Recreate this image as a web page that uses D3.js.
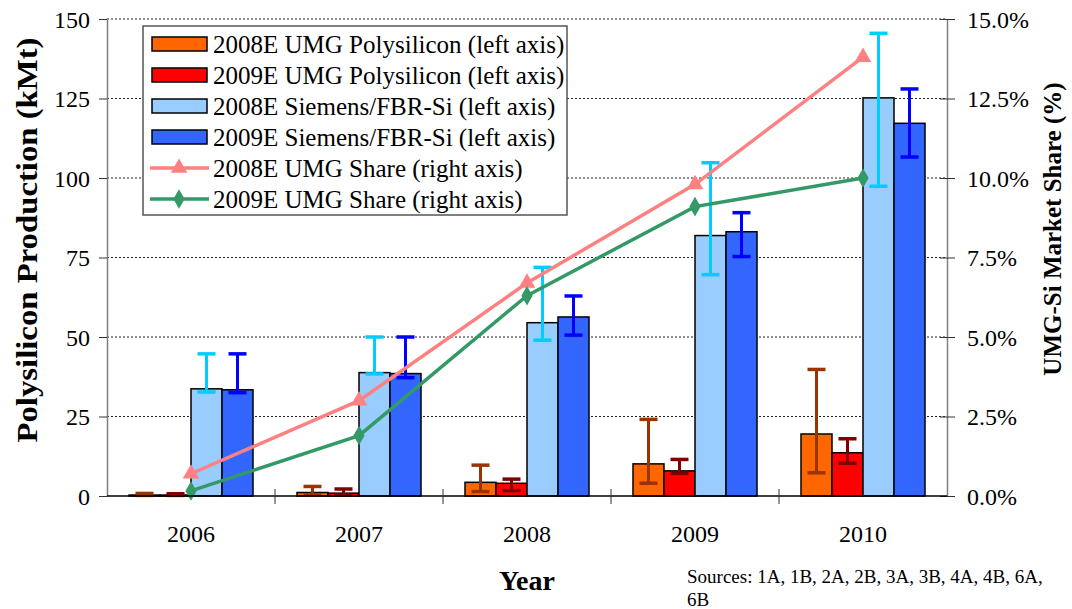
<!DOCTYPE html>
<html>
<head>
<meta charset="utf-8">
<script src="https://cdnjs.cloudflare.com/ajax/libs/d3/7.8.5/d3.min.js"></script>
<style>
    body { margin: 0; background: #fff; }
    svg text { font-family: "Liberation Serif", "Times New Roman", serif; fill: #000; }
</style>
</head>
<body>
<div id="wrapper"></div>
<script>

// values
var years = ["2006", "2007", "2008", "2009", "2010"];

var umg2008 = [0.3, 1.1, 4.3, 10.1, 19.5];
var umg2009 = [0.3, 0.9, 4.0, 7.9, 13.6];
var sie2008 = [33.7, 38.8, 54.5, 81.9, 125.2];
var sie2009 = [33.4, 38.5, 56.3, 83.1, 117.2];

// error bar ends (low / high)
var umg2008Lo = [0.2, 0.3, 1.4, 4.0, 7.3];
var umg2008Hi = [0.8, 3.0, 9.7, 24.1, 39.8];
var umg2009Lo = [0.2, 0.3, 1.7, 7.1, 10.3];
var umg2009Hi = [0.7, 2.2, 5.3, 11.5, 18.0];
var sie2008Lo = [32.7, 38.4, 49.0, 69.6, 97.4];
var sie2008Hi = [44.7, 50.0, 71.9, 104.8, 145.5];
var sie2009Lo = [32.5, 37.2, 50.6, 75.3, 106.6];
var sie2009Hi = [44.7, 50.0, 62.9, 89.1, 128.0];

// right axis lines
var share2008 = [0.007, 0.030, 0.067, 0.098, 0.138];
var share2009 = [0.0016, 0.019, 0.063, 0.091, 0.100];

var leftTicks = [0, 25, 50, 75, 100, 125, 150];
var rightTicks = [0, 0.025, 0.05, 0.075, 0.1, 0.125, 0.15];

var barSeries = [
    { name: "2008E UMG Polysilicon (left axis)", values: umg2008, lo: umg2008Lo, hi: umg2008Hi, fill: "#ff6600", err: "#993300" },
    { name: "2009E UMG Polysilicon (left axis)", values: umg2009, lo: umg2009Lo, hi: umg2009Hi, fill: "#ff0000", err: "#800000" },
    { name: "2008E Siemens/FBR-Si (left axis)", values: sie2008, lo: sie2008Lo, hi: sie2008Hi, fill: "#99ccff", err: "#00ccff" },
    { name: "2009E Siemens/FBR-Si (left axis)", values: sie2009, lo: sie2009Lo, hi: sie2009Hi, fill: "#3366ff", err: "#0000ff" }
];
var lineSeries = [
    { name: "2008E UMG Share (right axis)", values: share2008, color: "#ff8080", symbol: d3.symbolTriangle },
    { name: "2009E UMG Share (right axis)", values: share2009, color: "#339966", symbol: d3.symbolDiamond }
];

var margin = { top: 19, right: 125, bottom: 113, left: 107 };
var W = 1072, H = 609;
var width = W - margin.left - margin.right,
    height = H - margin.top - margin.bottom;

var svg = d3.select("#wrapper").append("svg")
    .attr("width", W)
    .attr("height", H)
    .attr("font-family", "'Liberation Serif', 'Times New Roman', serif");

var g = svg.append("g")
    .attr("transform", "translate(" + margin.left + "," + margin.top + ")");

var x = d3.scaleBand().domain(years).range([0, width]);
var xInner = d3.scaleBand().domain(d3.range(barSeries.length)).range([22, x.bandwidth() - 22]);
var y = d3.scaleLinear().domain([0, 150]).range([height, 0]);
var y2 = d3.scaleLinear().domain([0, 0.15]).range([height, 0]);

// dotted gridlines
g.append("g").selectAll("line")
    .data(leftTicks.filter(function(d) { return d > 0; }))
    .enter().append("line")
    .attr("x1", 0).attr("x2", width)
    .attr("y1", function(d) { return y(d); })
    .attr("y2", function(d) { return y(d); })
    .attr("stroke", "#222")
    .attr("stroke-width", 1)
    .attr("stroke-dasharray", "2,2");

// bars
barSeries.forEach(function(s, i) {
    g.append("g").selectAll("rect")
        .data(s.values)
        .enter().append("rect")
        .attr("x", function(d, j) { return x(years[j]) + xInner(i); })
        .attr("y", function(d) { return y(d); })
        .attr("width", xInner.bandwidth())
        .attr("height", function(d) { return height - y(d); })
        .attr("fill", s.fill)
        .attr("stroke", "#000")
        .attr("stroke-width", 1.5);
});

// error bars
barSeries.forEach(function(s, i) {
    var eg = g.append("g").attr("stroke", s.err);
    s.values.forEach(function(d, j) {
        var cx = x(years[j]) + xInner(i) + xInner.bandwidth() / 2;
        eg.append("line")
            .attr("x1", cx).attr("x2", cx)
            .attr("y1", y(s.lo[j])).attr("y2", y(s.hi[j]))
            .attr("stroke-width", 3);
        [s.lo[j], s.hi[j]].forEach(function(v) {
            eg.append("line")
                .attr("x1", cx - 9).attr("x2", cx + 9)
                .attr("y1", y(v)).attr("y2", y(v))
                .attr("stroke-width", 3.5);
        });
    });
});

// share lines
var line = d3.line()
    .x(function(d, j) { return x(years[j]) + x.bandwidth() / 2; })
    .y(function(d) { return y2(d); });

lineSeries.forEach(function(s) {
    g.append("path")
        .datum(s.values)
        .attr("d", line)
        .attr("fill", "none")
        .attr("stroke", s.color)
        .attr("stroke-width", 3.5);
    g.append("g").selectAll("path")
        .data(s.values)
        .enter().append("path")
        .attr("d", d3.symbol().type(s.symbol).size(s.symbol === d3.symbolTriangle ? 120 : 110))
        .attr("transform", function(d, j) {
            return "translate(" + (x(years[j]) + x.bandwidth() / 2) + "," + y2(d) + ")";
        })
        .attr("fill", s.color);
});

// left axis
var yAxis = d3.axisLeft(y).tickValues(leftTicks).tickSize(8).tickSizeOuter(0).tickPadding(9);
var ya = g.append("g").call(yAxis);
ya.attr("font-family", null);
ya.select(".domain").attr("stroke", "#7f7f7f").attr("stroke-width", 1.5);
ya.selectAll(".tick line").attr("stroke", "#333");
ya.selectAll(".tick text").style("font-size", "24px").attr("dy", "0.34em");

// right axis
var y2Axis = d3.axisRight(y2).tickValues(rightTicks).tickSize(8).tickSizeOuter(0).tickPadding(12)
    .tickFormat(d3.format(".1%"));
var y2a = g.append("g").attr("transform", "translate(" + width + ",0)").call(y2Axis);
y2a.attr("font-family", null);
y2a.select(".domain").attr("stroke", "#7f7f7f").attr("stroke-width", 1.5);
y2a.selectAll(".tick line").attr("x1", -7).attr("stroke", "#333");
y2a.selectAll(".tick text").style("font-size", "24px").attr("dy", "0.34em");

// bottom axis, ticks sit between the years
g.append("line")
    .attr("x1", 0).attr("x2", width)
    .attr("y1", height).attr("y2", height)
    .attr("stroke", "#000").attr("stroke-width", 1.5);
g.append("g").selectAll("line")
    .data(years.slice(1))
    .enter().append("line")
    .attr("x1", function(d) { return x(d); })
    .attr("x2", function(d) { return x(d); })
    .attr("y1", height - 7).attr("y2", height + 8)
    .attr("stroke", "#333");
g.append("g").selectAll("text")
    .data(years)
    .enter().append("text")
    .attr("x", function(d) { return x(d) + x.bandwidth() / 2; })
    .attr("y", height + 46)
    .attr("text-anchor", "middle")
    .style("font-size", "24px")
    .text(function(d) { return d; });

// axis titles
svg.append("text")
    .attr("transform", "translate(37,240) rotate(-90)")
    .attr("text-anchor", "middle")
    .attr("textLength", 405)
    .attr("lengthAdjust", "spacingAndGlyphs")
    .style("font-size", "29px")
    .style("font-weight", "bold")
    .text("Polysilicon Production (kMt)");

svg.append("text")
    .attr("transform", "translate(1061,229) rotate(-90)")
    .attr("text-anchor", "middle")
    .style("font-size", "25px")
    .style("font-weight", "bold")
    .text("UMG-Si Market Share (%)");

svg.append("text")
    .attr("x", margin.left + width / 2)
    .attr("y", 590)
    .attr("text-anchor", "middle")
    .style("font-size", "28px")
    .style("font-weight", "bold")
    .text("Year");

svg.append("text")
    .attr("x", 687).attr("y", 583)
    .style("font-size", "19px")
    .text("Sources: 1A, 1B, 2A, 2B, 3A, 3B, 4A, 4B, 6A,");
svg.append("text")
    .attr("x", 687).attr("y", 606)
    .style("font-size", "19px")
    .text("6B");

/*** LEGEND ***/
var legend = svg.append("g");
legend.append("rect")
    .attr("x", 143).attr("y", 26)
    .attr("width", 424).attr("height", 189)
    .attr("fill", "#fff")
    .attr("stroke", "#555")
    .attr("stroke-width", 1.5);

var rowY = function(k) { return 44 + k * 31; };

barSeries.forEach(function(s, k) {
    legend.append("rect")
        .attr("x", 152).attr("y", rowY(k) - 7)
        .attr("width", 55).attr("height", 14)
        .attr("fill", s.fill)
        .attr("stroke", "#000")
        .attr("stroke-width", 1.5);
    legend.append("text")
        .attr("x", 213).attr("y", rowY(k))
        .attr("dy", "0.35em")
        .style("font-size", "25px")
        .text(s.name);
});

lineSeries.forEach(function(s, k) {
    var ry = rowY(k + 4);
    legend.append("line")
        .attr("x1", 150).attr("x2", 209)
        .attr("y1", ry).attr("y2", ry)
        .attr("stroke", s.color)
        .attr("stroke-width", 3.5);
    legend.append("path")
        .attr("d", d3.symbol().type(s.symbol).size(s.symbol === d3.symbolTriangle ? 120 : 110))
        .attr("transform", "translate(179," + ry + ")")
        .attr("fill", s.color);
    legend.append("text")
        .attr("x", 213).attr("y", ry)
        .attr("dy", "0.35em")
        .style("font-size", "25px")
        .text(s.name);
});

</script>
</body>
</html>
